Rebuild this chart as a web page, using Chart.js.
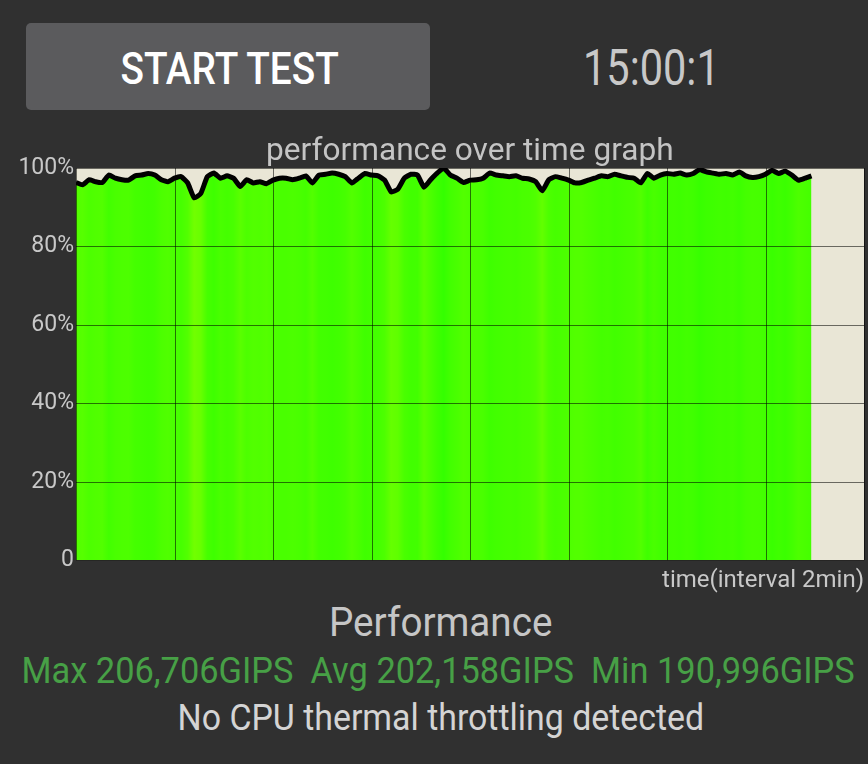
<!DOCTYPE html>
<html>
<head>
<meta charset="utf-8">
<script src="https://cdn.jsdelivr.net/npm/chart.js@4.4.1/dist/chart.umd.min.js"></script>
<style>
  html, body { margin: 0; padding: 0; }
  body { width: 868px; height: 764px; background: #303030; position: relative; overflow: hidden; font-family: Roboto, "Noto Sans", sans-serif; }
  .btn { position: absolute; left: 26px; top: 23px; width: 404px; height: 87px; background: #5b5b5d; border-radius: 5px; }
  .txt { position: absolute; white-space: nowrap; line-height: 1; transform-origin: center center; }
  #chartBox { position: absolute; left: 0; top: 128px; width: 868px; height: 467px; }
</style>
</head>
<body>
<div class="btn"></div>
<div class="txt" data-cx="229" data-cy="68" data-w="218" style="font-size:45px;font-weight:500;color:#ffffff">START TEST</div>
<div class="txt" data-cx="651" data-cy="68" data-w="137" style="font-size:50px;font-weight:400;color:#c8c8c8">15:00:1</div>
<div id="chartBox"><canvas id="perf"></canvas></div>
<div class="txt" data-cx="470" data-cy="149" data-w="408" style="font-size:31px;color:#c4c4c4">performance over time graph</div>
<div class="txt" data-cx="440" data-cy="623" data-w="223" style="font-size:40px;color:#c6c6c6">Performance</div>
<div class="txt" data-cx="438" data-cy="671" data-w="833" style="font-size:36px;color:#47a046">Max 206,706GIPS&nbsp;&nbsp;Avg 202,158GIPS&nbsp;&nbsp;Min 190,996GIPS</div>
<div class="txt" data-cx="441" data-cy="718" data-w="527" style="font-size:36px;color:#d4d4d4">No CPU thermal throttling detected</div>
<script>
// performance samples (% of max), one every 8 seconds
var sampleSec = 8;
var perfValues = [
  96.3, 95.7, 97.0, 96.5, 96.3, 98.2, 97.4, 97.0, 96.9, 98.0,
  98.2, 98.6, 98.2, 97.0, 96.5, 97.4, 97.8, 96.2, 92.4, 93.5,
  97.8, 98.7, 97.4, 98.0, 97.4, 95.3, 97.0, 96.2, 96.5, 96.0,
  96.9, 97.4, 97.4, 97.0, 97.4, 98.0, 96.2, 98.2, 98.4, 98.7,
  98.4, 97.8, 96.2, 97.4, 98.6, 98.2, 98.0, 96.9, 93.9, 94.6,
  97.4, 98.4, 98.2, 95.1, 97.0, 98.7, 100.0, 98.2, 97.4, 96.3,
  96.9, 97.0, 97.4, 98.7, 98.2, 98.0, 97.8, 98.0, 97.4, 97.2,
  96.5, 94.2, 97.0, 97.8, 97.4, 96.9, 96.2, 96.3, 96.9, 97.4,
  98.0, 97.8, 98.4, 98.0, 97.6, 97.4, 96.2, 98.6, 97.4, 98.2,
  98.6, 98.4, 98.7, 98.2, 98.6, 99.6, 99.0, 98.7, 98.4, 98.6,
  98.2, 99.0, 98.0, 97.6, 97.8, 98.4, 99.4, 98.6, 99.2, 98.2,
  96.9, 97.4, 98.0
];
var yTicks = [0, 20, 40, 60, 80, 100];
var xMaxMin = 16; // 8 intervals of 2 min

// position the html texts, squeezing them to the widths of the screenshot
document.querySelectorAll('.txt').forEach(function(el) {
  var w = el.offsetWidth, h = el.offsetHeight;
  var sx = (+el.dataset.w) / w;
  el.style.left = (+el.dataset.cx - w / 2) + 'px';
  el.style.top = (+el.dataset.cy - h / 2) + 'px';
  el.style.transform = 'scaleX(' + sx + ')';
});

var points = perfValues.map(function(v, i) {
  return { x: i * sampleSec / 60, y: v };
});

function greenFor(v) {
  var r = Math.max(45, Math.min(115, Math.round(52 + (100 - v) * 8)));
  return 'rgb(' + r + ',255,0)';
}

function stripeFill(ctx) {
  var chart = ctx.chart;
  var area = chart.chartArea;
  var xs = chart.scales.x;
  if (!area || !xs) return greenFor(98);
  var g = chart.ctx.createLinearGradient(area.left, 0, area.right, 0);
  var w = area.right - area.left;
  perfValues.forEach(function(v, i) {
    var px = xs.getPixelForValue(i * sampleSec / 60);
    var f = Math.max(0, Math.min(1, (px - area.left) / w));
    g.addColorStop(f, greenFor(v));
  });
  return g;
}

var plotBg = {
  id: 'plotBg',
  beforeDraw: function(chart) {
    var a = chart.chartArea, c = chart.ctx;
    c.save();
    c.fillStyle = '#e9e6d6';
    c.fillRect(a.left, a.top, a.right - a.left, a.bottom - a.top);
    c.restore();
  }
};

// the app draws its grid over the filled area
var gridOver = {
  id: 'gridOver',
  afterDatasetsDraw: function(chart) {
    var a = chart.chartArea, c = chart.ctx;
    var xs = chart.scales.x, ys = chart.scales.y;
    c.save();
    c.strokeStyle = 'rgba(0,0,0,0.55)';
    c.lineWidth = 1;
    c.beginPath();
    xs.ticks.forEach(function(t) {
      var px = Math.round(xs.getPixelForValue(t.value)) + 0.5;
      c.moveTo(px, a.top);
      c.lineTo(px, a.bottom);
    });
    ys.ticks.forEach(function(t) {
      var py = Math.round(ys.getPixelForValue(t.value)) + 0.5;
      c.moveTo(a.left, py);
      c.lineTo(a.right, py);
    });
    c.stroke();
    c.restore();
  }
};

new Chart(document.getElementById('perf'), {
  type: 'line',
  data: {
    datasets: [{
      data: points,
      borderColor: '#000000',
      borderWidth: 5,
      tension: 0.15,
      pointRadius: 0,
      fill: 'origin',
      backgroundColor: stripeFill
    }]
  },
  options: {
    responsive: true,
    maintainAspectRatio: false,
    animation: false,
    layout: { padding: { top: 40, right: 4, left: 0, bottom: 0 } },
    plugins: {
      legend: { display: false },
      tooltip: { enabled: false }
    },
    scales: {
      x: {
        type: 'linear',
        min: 0,
        max: xMaxMin,
        ticks: { display: false, stepSize: 2 },
        grid: { drawOnChartArea: false, drawTicks: false },
        border: { display: false },
        title: {
          display: true,
          align: 'end',
          text: 'time(interval 2min)',
          color: '#c8c8c8',
          font: { family: 'Roboto', size: 24 },
          padding: { top: 6, bottom: 0 }
        }
      },
      y: {
        min: 0,
        max: 100,
        afterBuildTicks: function(scale) {
          scale.ticks = yTicks.map(function(v) { return { value: v }; });
        },
        afterFit: function(scale) { scale.width = 76; },
        ticks: {
          color: '#c8c8c8',
          padding: 2,
          font: { family: 'Roboto', size: 23 },
          callback: function(v) { return v === 0 ? '0' : v + '%'; }
        },
        grid: { drawOnChartArea: false, drawTicks: false },
        border: { display: false }
      }
    }
  },
  plugins: [plotBg, gridOver]
});
</script>
</body>
</html>
